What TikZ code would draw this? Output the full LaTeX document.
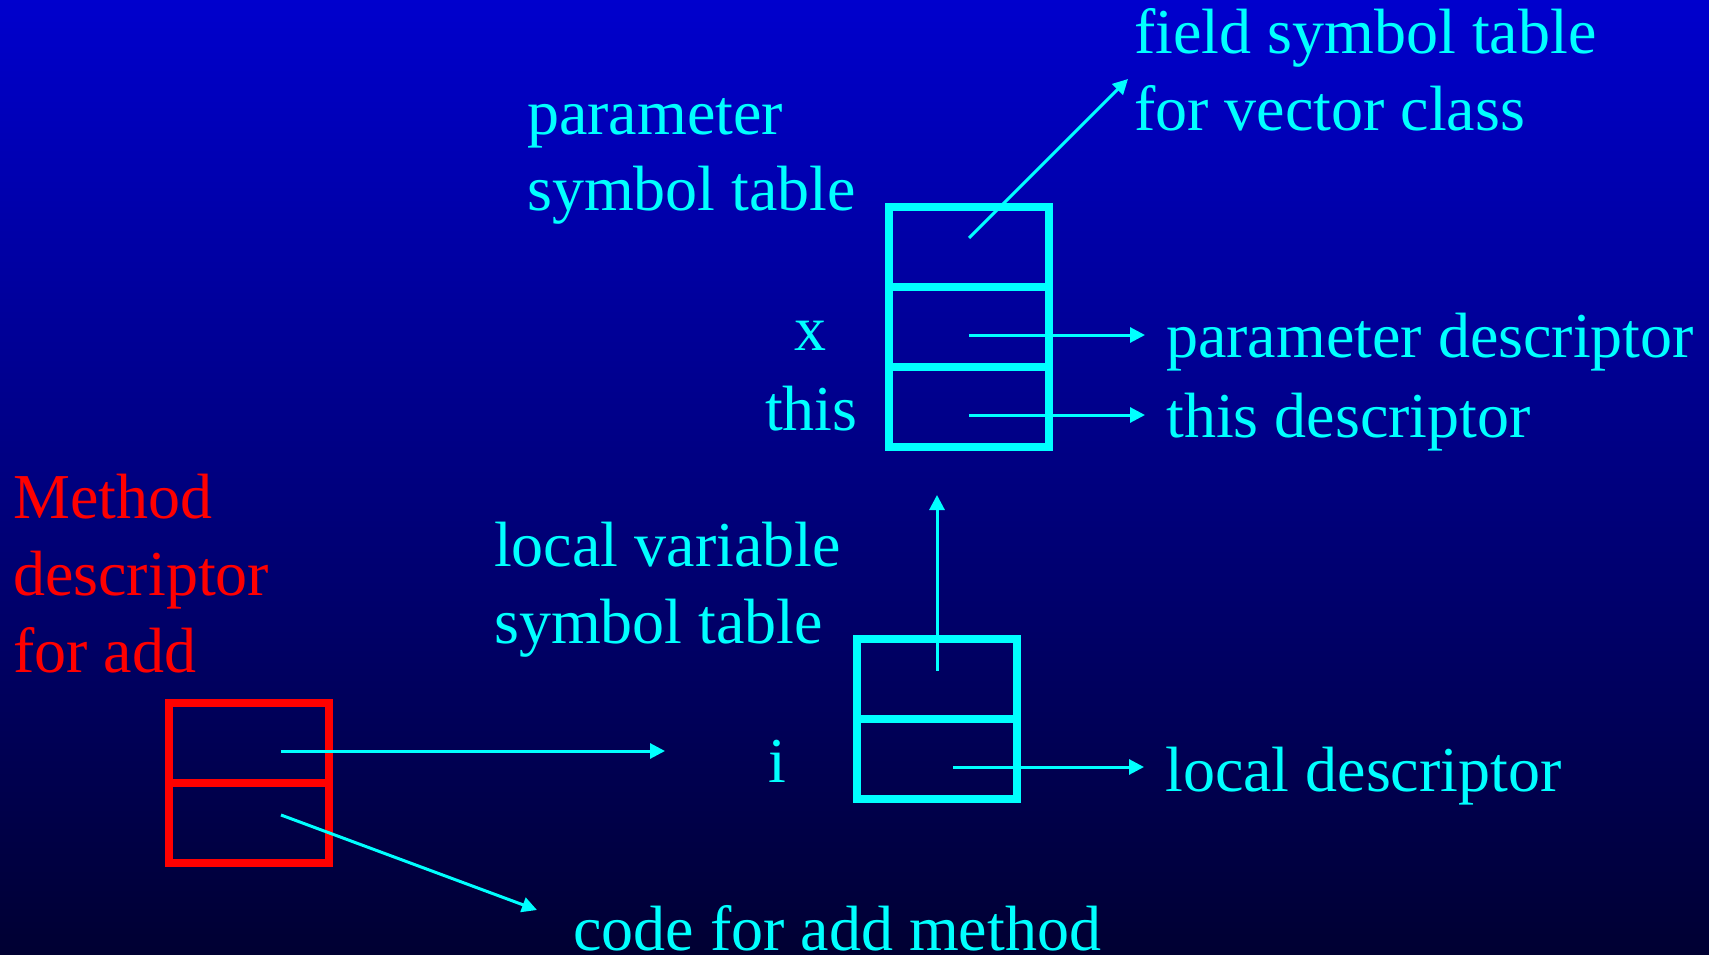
\documentclass[tikz,border=0pt]{standalone}
\usepackage{fontspec}
\setmainfont{Liberation Serif}
\usetikzlibrary{positioning,arrows.meta}
\definecolor{slidetop}{RGB}{0,0,205}
\definecolor{slidemid}{RGB}{0,0,140}
\definecolor{slidebot}{RGB}{0,0,50}
\definecolor{aqua}{RGB}{0,255,255}
\definecolor{slidered}{RGB}{255,0,0}
\tikzset{
  cell/.style={draw=aqua,line width=8pt,minimum width=160pt,minimum height=80pt,inner sep=0pt,outer sep=0pt},
  redcell/.style={cell,draw=slidered},
  lbl/.style={text=aqua,font=\fontsize{64}{77}\selectfont,inner sep=0pt,anchor=base west,align=left},
  ptr/.style={->,draw=aqua,fill=aqua,line width=3pt}
}
\begin{document}
\begin{tikzpicture}[x=1pt,y=-1pt,>={Triangle[length=15pt,width=15pt]}]
	\useasboundingbox (0,0) rectangle (1709,955);
	\shade[top color=slidetop,middle color=slidemid,bottom color=slidebot] (0,0) rectangle (1709,955);
	% parameter symbol table
	\node[cell] (p1) at (969,247) {};
	\node[cell,below=0pt of p1] (p2) {};
	\node[cell,below=0pt of p2] (p3) {};
	\node[lbl] (ptab) at (527,211) {parameter\\symbol table};
	\node[lbl] (x) at (794,350) {x};
	\node[lbl] (this) at (765,430) {this};
	\node[lbl] (field) at (1134,131) {field symbol table\\for vector class};
	\node[lbl] (pdesc) at (1166,357) {parameter descriptor};
	\node[lbl] (tdesc) at (1166,437) {this descriptor};
	% local variable symbol table
	\node[cell] (l1) at (937,679) {};
	\node[cell,below=0pt of l1] (l2) {};
	\node[lbl] (ltab) at (494,643) {local variable\\symbol table};
	\node[lbl] (i) at (768,782) {i};
	\node[lbl] (ldesc) at (1165,791) {local descriptor};
	% method descriptor
	\node[redcell] (m1) at (249,743) {};
	\node[redcell,below=0pt of m1] (m2) {};
	\node[lbl,text=slidered] (mdesc) at (13,672) {Method\\descriptor\\for add};
	\node[lbl] (code) at (573,950) {code for add method};
	\coordinate (fieldtip) at (1128,79);
	\coordinate (loctip) at (665,751);
	\coordinate (codetip) at (537,910);
	% pointers
	\coordinate (pf) at ([yshift=9pt]p1.center);
	\coordinate (pa) at ([yshift=-8pt]p2.center);
	\coordinate (pb) at ([yshift=-8pt]p3.center);
	\coordinate (la) at ([yshift=8pt]l1.center);
	\coordinate (lb) at ([xshift=16pt,yshift=-8pt]l2.center);
	\coordinate (ma) at ([xshift=32pt,yshift=-8pt]m1.center);
	\coordinate (mb) at ([xshift=32pt,yshift=8pt]m2.center);
	\draw[ptr] (pf)--(fieldtip);
	\draw[ptr,shorten >=21pt] (pa)--(pa -| pdesc.west);
	\draw[ptr,shorten >=21pt] (pb)--(pb -| tdesc.west);
	\draw[ptr,shorten >=48pt] (la)--(la |- p3.south);
	\draw[ptr,shorten >=21pt] (lb)--(lb -| ldesc.west);
	\draw[ptr] (ma)--(loctip);
	\draw[ptr] (mb)--(codetip);
\end{tikzpicture}
\end{document}
